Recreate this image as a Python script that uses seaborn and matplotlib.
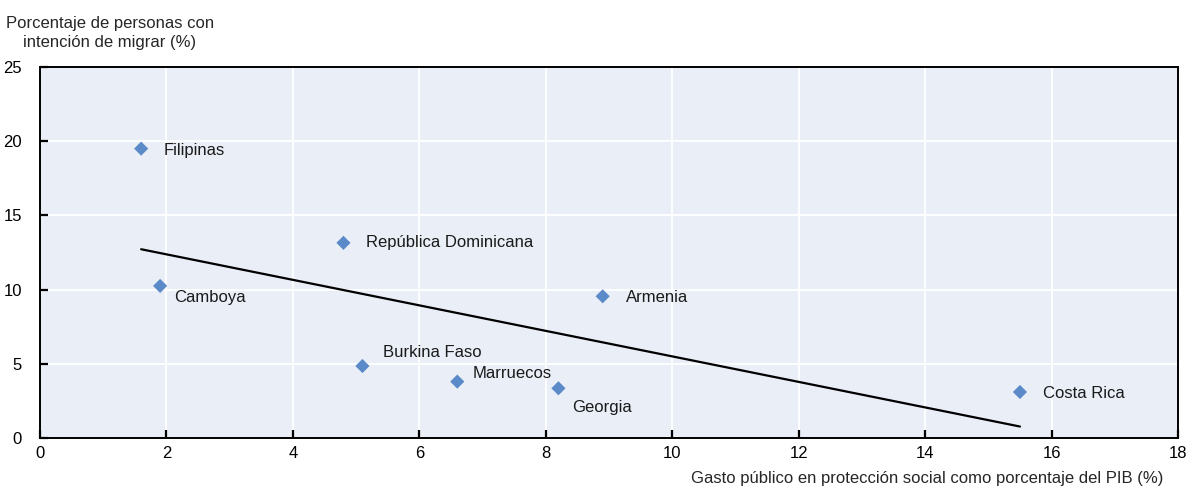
import matplotlib
matplotlib.use("Agg")
import matplotlib.pyplot as plt
import seaborn as sns
import pandas as pd

paises = ["Filipinas", "Camboya", "República Dominicana", "Armenia",
          "Burkina Faso", "Marruecos", "Georgia", "Costa Rica"]
gasto = [1.6, 1.9, 4.8, 8.9, 5.1, 6.6, 8.2, 15.5]
intencion = [19.5, 10.25, 13.15, 9.55, 4.85, 3.8, 3.35, 3.1]

df = pd.DataFrame({"pais": paises, "gasto": gasto, "intencion": intencion})

# label offsets in pixels (dx, dy)
offsets = {
    "Filipinas": (22, -2), "Camboya": (14, -12), "República Dominicana": (23, 0),
    "Armenia": (23, -1), "Burkina Faso": (21, 14), "Marruecos": (15, 8),
    "Georgia": (14, -19), "Costa Rica": (23, -2),
}

sns.set_style("ticks")
plt.rcParams["font.family"] = ["Liberation Sans Narrow", "Liberation Sans", "DejaVu Sans"]

fig = plt.figure(figsize=(11.89, 4.87), dpi=100)
ax = fig.add_axes([40 / 1189, 1 - 438 / 487, 1138 / 1189, 371 / 487])
ax.set_facecolor("#e9eef7")

sns.regplot(data=df, x="gasto", y="intencion", scatter=False, ci=None,
            color="black", line_kws={"linewidth": 1.6}, ax=ax)
sns.scatterplot(data=df, x="gasto", y="intencion", marker="D", s=52,
                color="#5b8ac8", edgecolor="none", ax=ax, zorder=4)

for p, x, y in zip(paises, gasto, intencion):
    dx, dy = offsets[p]
    ax.annotate(p, (x, y), xytext=(dx * 0.72, dy * 0.72), textcoords="offset points",
                ha="left", va="center", fontsize=12, color="#1a1a1a")

ax.set_xlim(0, 18)
ax.set_ylim(0, 25)
ax.set_xticks(range(0, 19, 2))
ax.set_yticks(range(0, 26, 5))
ax.grid(True, color="white", linewidth=1.3)
ax.set_axisbelow(True)
for s in ax.spines.values():
    s.set_color("black")
    s.set_linewidth(1.4)
ax.tick_params(axis="both", direction="in", length=6, width=1.6, labelsize=12,
               colors="black", bottom=True, left=True, top=False, right=False)
ax.tick_params(axis="x", pad=6)
ax.tick_params(axis="y", pad=13)
ax.set_xlabel("")
ax.set_ylabel("")

fig.text(1163 / 1189, 1 - 478 / 487, "Gasto público en protección social como porcentaje del PIB (%)",
         ha="right", va="center", fontsize=12)
fig.text(110 / 1189, 1 - 33 / 487, "Porcentaje de personas con\nintención de migrar (%)",
         ha="center", va="center", fontsize=12, linespacing=1.35)

fig.savefig("out.png", dpi=100)
